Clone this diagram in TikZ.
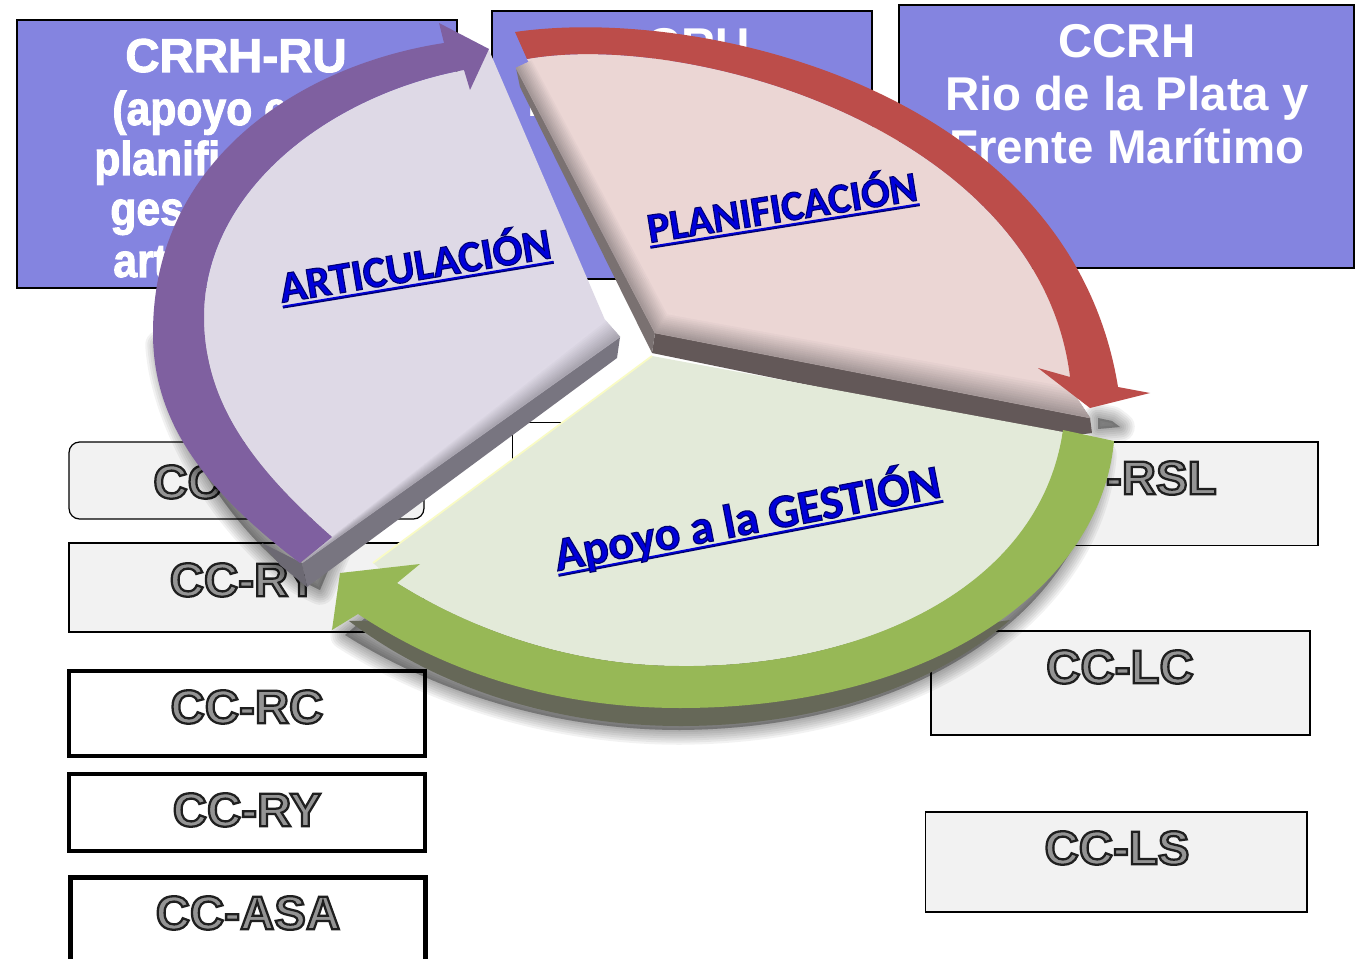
\documentclass[tikz,border=0pt]{standalone}
\usepackage{fontspec}
\usetikzlibrary{calc}
\setmainfont{Liberation Sans}
\newfontface\ccfont{Liberation Sans Bold}[FakeBold=4.8]
\newfontface\heavyfont{Liberation Sans Bold}[FakeBold=2.2]
\newfontface\facefont{Carlito Bold}[FakeBold=2.5]

\definecolor{boxblue}{HTML}{8484E0}
\definecolor{boxgray}{HTML}{F2F2F2}
\definecolor{artband}{HTML}{7F60A0}
\definecolor{artface}{HTML}{DED9E6}
\definecolor{artbevel}{HTML}{A9A5B0}
\definecolor{artside}{HTML}{787580}
\definecolor{planband}{HTML}{BC4D4A}
\definecolor{planface}{HTML}{EBD6D4}
\definecolor{planbevel}{HTML}{A49797}
\definecolor{planside}{HTML}{635858}
\definecolor{gesband}{HTML}{97B856}
\definecolor{gesface}{HTML}{E3EAD9}
\definecolor{gesside}{HTML}{666858}
\definecolor{labelblue}{HTML}{0000D8}
\definecolor{labelnavy}{HTML}{000070}

\tikzset{
  bluebox/.style={draw=black, fill=boxblue, line width=.8pt, inner sep=0pt},
  graybox/.style={draw=black, fill=boxgray, line width=.7pt, inner sep=0pt},
  thickbox/.style={draw=black, fill=white, line width=2.5pt, inner sep=0pt},
  whitetext/.style={text=white, inner sep=0pt, font=\bfseries\fontsize{27}{30.3}\selectfont, align=center},
  heavytext/.style={text=white, inner sep=0pt, font=\heavyfont\fontsize{27}{30}\selectfont},
  cctext/.style={inner sep=0pt, font=\ccfont\fontsize{27}{30}\selectfont},
  facetext/.style={inner sep=0pt},
}

% fill grey, stroke dark, for the lettering of the CC boxes
\newcommand{\ccword}[1]{\special{pdf:bc [0.58] [0.12]}#1\special{pdf:ec}}
% blue lettering with a dark edge and a heavy underline
\newsavebox{\facebox}
\newcommand{\faceword}[1]{\sbox{\facebox}{#1}\rlap{\textcolor{labelnavy}{\rule[-3.4pt]{\wd\facebox}{1.3pt}}}\rlap{\textcolor{labelblue}{\rule[-2.6pt]{\wd\facebox}{.9pt}}}\special{pdf:bc [0 0 0.85] [0 0 0.44]}#1\special{pdf:ec}}
\newcommand{\thinword}[1]{\scalebox{.9}[1]{#1}}
% soft shadow, stacked strokes
\newcommand{\softshadow}[1]{\foreach \w in {1,2,...,7} {\draw [black, opacity=.05, fill=black, fill opacity=.05, line join=round, line width=\w*2.4pt] #1;}}
% bevel strip between two edges, colour running from one to the other
\newcommand{\bevel}[6]{\foreach \i in {0,...,11} {
    \pgfmathsetmacro{\s}{\i/12}
    \pgfmathsetmacro{\e}{(\i+1)/12}
    \pgfmathtruncatemacro{\p}{\i*100/11}
    \path [draw=#6!\p!#5, fill=#6!\p!#5, line width=.3pt] ($#1!\s!#3$) -- ($#2!\s!#4$) -- ($#2!\e!#4$) -- ($#1!\e!#3$) -- cycle;
}}

\begin{document}
\begin{tikzpicture}[x=0.02cm, y=-0.02cm]
    \clip (0, 0) rectangle (1358, 959);
    \fill [white] (0, 0) rectangle (1358, 959);

    % blue boxes at the top
    \path (237, 154) node [bluebox, minimum width=8.8cm, minimum height=5.36cm] (crrh) {};
    \path (682, 145) node [bluebox, minimum width=7.6cm, minimum height=5.36cm] (cru) {};
    \path (1126.5, 136.5) node [bluebox, minimum width=9.1cm, minimum height=5.26cm] (ccrh) {};
    \path (125, 72) node [heavytext, anchor=base west] (crrhtitle) {CRRH-RU};
    \foreach \i/\xpos/\ypos/\word in {1/112/125/(apoyo e, 2/94/175/planifi, 3/110/225/ges, 4/113/277/art}
        \path (\xpos, \ypos) node [heavytext, anchor=base west] (crrhline\i) {\thinword{\word}};
    \path (750, 45) node [whitetext, anchor=east] (crutitle) {CRU};
    \path (527, 117) node [whitetext, anchor=south west] (cruline) {L};
    \path (1127, 94) node [whitetext] (ccrhtitle) {CCRH\\Rio de la Plata y\\Frente Marítimo};

    % left column
    \path (246.5, 480.5) node [graybox, rounded corners=6pt, minimum width=7.1cm, minimum height=1.54cm] (ccone) {};
    \path (153, 482) node [cctext, anchor=west] (cconetext) {\ccword{CC}};
    \path (246.5, 587.5) node [graybox, minimum width=7.1cm, minimum height=1.78cm] (cctwo) {};
    \path (244, 580) node [cctext] (cctwotext) {\ccword{CC-RY}};
    \path (247, 713.5) node [thickbox, minimum width=7.12cm, minimum height=1.7cm] (ccrc) {};
    \path (247, 707) node [cctext] (ccrctext) {\ccword{CC-RC}};
    \path (247, 812.5) node [thickbox, minimum width=7.12cm, minimum height=1.54cm] (ccry) {};
    \path (247, 810) node [cctext] (ccrytext) {\ccword{CC-RY}};
    \path (248, 921) node [thickbox, minimum width=7.1cm, minimum height=1.74cm] (ccasa) {};
    \path (248, 913) node [cctext] (ccasatext) {\ccword{CC-ASA}};

    % right column, and the box almost all hidden behind the wheel
    \path (1121.5, 493.75) node [graybox, minimum width=7.86cm, minimum height=2.07cm] (ccrsl) {};
    \path (1217, 478) node [cctext, anchor=east] (ccrsltext) {\ccword{-RSL}};
    \path (1120.5, 683) node [graybox, minimum width=7.58cm, minimum height=2.08cm] (cclc) {};
    \path (1120, 667) node [cctext] (cclctext) {\ccword{CC-LC}};
    \path (1116.3, 862) node [graybox, minimum width=7.63cm, minimum height=2cm] (ccls) {};
    \path (1117, 848) node [cctext] (cclstext) {\ccword{CC-LS}};
    \path (580, 470) node [draw=black, fill=white, line width=.7pt, inner sep=0pt, minimum width=2.7cm, minimum height=1.9cm] (hidden) {};

    % shadows under the wheel
    \softshadow{(1102, 455) .. controls (1090, 600) and (930, 728) .. (680, 730) .. controls (560, 730) and (440, 695) .. (345, 635) -- (600, 420) -- cycle}
    \softshadow{(160, 345) .. controls (165, 420) and (220, 520) .. (300, 580) -- (320, 590) -- (400, 400) -- cycle}
    \softshadow{(1098, 418) -- (1112, 421) -- (1120, 427) -- (1098, 429) -- cycle}

    % planificacion
    \fill [planside] (655, 333) -- (1090, 418) -- (1092, 433) -- (1062, 437) -- (652, 353) -- cycle;
    \fill [planside!85!white] (516, 68) -- (655, 333) -- (652, 353) -- (520, 87) -- cycle;
    \fill [planface] (668, 313) -- (527, 59)
        .. controls (690, 30) and (1040, 130) .. (1070, 377)
        -- (1075, 392) -- cycle;
    \bevel{(668, 313)}{(1068, 385)}{(655, 333)}{(1090, 418)}{planface}{planbevel}
    \bevel{(533, 60)}{(668, 313)}{(516, 68)}{(655, 333)}{planface}{planbevel}
    \fill [planband] (515, 32) .. controls (700, 5) and (1070, 90) .. (1118, 387)
        -- (1150, 393) -- (1090, 408) -- (1038, 368) -- (1070, 377)
        .. controls (1040, 130) and (690, 30) .. (527, 59) -- cycle;

    % gestion
    \fill [gesside] (1010, 620) .. controls (930, 690) and (810, 726) .. (680, 726)
        .. controls (560, 726) and (440, 690) .. (349, 621) -- (420, 620) -- (800, 650) -- cycle;
    \fill [gesface] (652, 356) -- (1063, 432)
        .. controls (1040, 590) and (860, 668) .. (680, 666)
        .. controls (580, 666) and (480, 635) .. (397, 583)
        -- (373, 563) -- cycle;
    \draw [gesface!50!yellow!40!white, line width=1pt] (652, 356) -- (373, 563);
    \fill [gesband] (1114, 441) .. controls (1100, 590) and (930, 708) .. (680, 708)
        .. controls (560, 708) and (450, 675) .. (358, 614)
        -- (332, 630) -- (340, 573) -- (420, 564) -- (397, 583)
        .. controls (480, 635) and (580, 666) .. (680, 666)
        .. controls (860, 668) and (1040, 590) .. (1063, 430) -- cycle;

    % articulacion
    \fill [artside] (620, 337) -- (302, 563) -- (307, 587) -- (617, 358) -- cycle;
    \fill [artside!90!black] (262, 543) -- (302, 563) -- (307, 587) -- (280, 565) -- cycle;
    \fill [artface] (489, 50) -- (605, 320) -- (332, 537)
        .. controls (250, 465) and (204, 400) .. (204, 317)
        .. controls (204, 190) and (330, 95) .. (464, 70) -- cycle;
    \bevel{(605, 320)}{(332, 537)}{(620, 337)}{(302, 563)}{artface}{artbevel}
    \fill [artband] (300, 563) .. controls (190, 480) and (153, 410) .. (153, 333)
        .. controls (153, 160) and (300, 65) .. (444, 43)
        -- (439, 23) -- (489, 49) -- (470, 90) -- (464, 70)
        .. controls (330, 95) and (204, 190) .. (204, 317)
        .. controls (204, 400) and (250, 465) .. (332, 537) -- cycle;

    % labels on the wheel
    \path (415, 265) node [facetext, rotate=9.4, font=\facefont\fontsize{25}{28}\selectfont] (articulacion) {\faceword{ARTICULACIÓN}};
    \path (782, 207) node [facetext, rotate=9, font=\facefont\fontsize{24}{28}\selectfont] (planificacion) {\faceword{PLANIFICACIÓN}};
    \path (747, 518) node [facetext, rotate=10.9, font=\facefont\fontsize{27}{30}\selectfont] (gestion) {\faceword{Apoyo a la GESTIÓN}};
\end{tikzpicture}
\end{document}
